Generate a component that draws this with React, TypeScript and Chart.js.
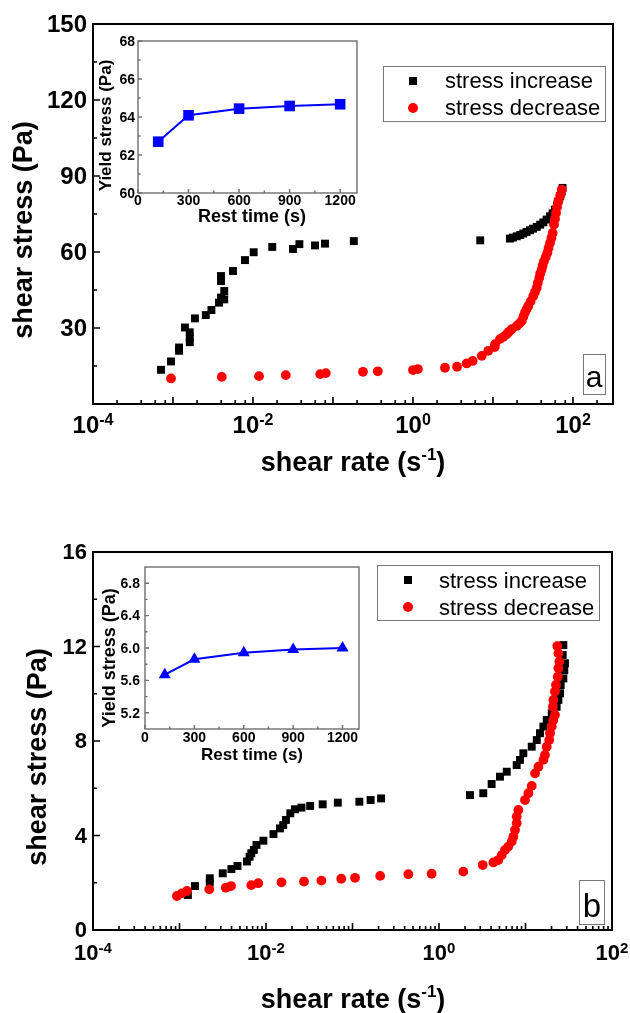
import React, { useEffect, useRef } from 'react';
import { Chart, registerables } from 'chart.js';

Chart.register(...registerables);

const FONT = '"Liberation Sans", Arial, Helvetica, sans-serif';

// ---------------- data: panel a ----------------
const incAx = [7.08e-4, 9.44e-4, 1.19e-3, 1.19e-3, 1.41e-3, 1.62e-3, 1.62e-3, 1.62e-3, 1.88e-3, 2.57e-3, 3.02e-3, 3.76e-3, 3.98e-3, 3.98e-3, 3.98e-3, 4.37e-3, 4.37e-3, 5.62e-3, 7.94e-3, 1.02e-2, 1.74e-2, 3.16e-2, 3.80e-2, 5.96e-2, 7.94e-2, 0.182, 6.92, 16.3, 17.8, 19.8, 21.9, 23.9, 26.3, 29.0, 31.6, 35.2, 38.9, 42.6, 46.8, 51.6, 55.6, 59.6, 63.1, 65.5, 69.2, 72.3, 74.1];
const incAy = [13.5, 16.8, 21.0, 22.3, 30.2, 28.3, 26.4, 24.4, 33.8, 35.1, 37.1, 40.0, 42.0, 48.5, 50.5, 44.6, 41.3, 52.5, 56.8, 59.9, 62.0, 61.2, 63.1, 62.6, 63.3, 64.3, 64.6, 65.3, 65.7, 66.2, 66.7, 67.3, 67.9, 68.6, 69.2, 69.9, 70.8, 71.7, 72.8, 74.1, 75.3, 76.7, 78.3, 80.0, 82.0, 83.9, 85.3];
const decAx = [9.44e-4, 4.07e-3, 1.19e-2, 2.57e-2, 6.92e-2, 8.13e-2, 0.237, 0.363, 1.0, 1.15, 2.51, 3.55, 4.68, 5.57, 7.23, 8.73, 10.5, 10.6, 12.2, 13.5, 14.8, 15.8, 17.1, 19.8, 21.4, 22.9, 24.0, 25.1, 26.3, 27.6, 29.5, 31.9, 33.5, 35.2, 36.3, 37.9, 38.9, 40.6, 41.7, 43.4, 45.7, 47.8, 49.5, 51.6, 53.7, 55.7, 57.9, 59.6, 61.3, 63.1, 65.5, 69.2, 72.3];
const decAy = [10.1, 10.7, 11.0, 11.4, 11.8, 12.2, 12.7, 12.9, 13.4, 13.8, 14.3, 14.7, 16.0, 17.0, 19.0, 21.0, 22.5, 23.6, 25.6, 26.5, 27.5, 28.5, 29.5, 30.8, 31.8, 32.8, 34.5, 36.1, 37.4, 38.7, 40.5, 42.6, 44.2, 45.9, 47.8, 49.8, 51.5, 53.1, 54.7, 56.4, 58.0, 59.7, 61.6, 63.6, 65.5, 67.5, 70.8, 73.0, 75.4, 77.7, 80.0, 82.3, 84.6];

// ---------------- data: panel b ----------------
const incBx = [1.25e-3, 1.51e-3, 2.24e-3, 2.24e-3, 3.16e-3, 3.98e-3, 4.68e-3, 6.03e-3, 6.46e-3, 6.76e-3, 7.24e-3, 7.76e-3, 9.33e-3, 1.22e-2, 1.45e-2, 1.58e-2, 1.70e-2, 1.91e-2, 2.16e-2, 2.57e-2, 3.24e-2, 4.52e-2, 6.76e-2, 0.120, 0.162, 0.214, 2.28, 3.25, 4.06, 5.07, 6.07, 7.91, 8.63, 9.44, 11.8, 13.5, 14.7, 16.1, 17.6, 20.1, 22.9, 24.0, 25.1, 25.5, 27.4, 28.1, 28.6, 26.9, 27.4];
const incBy = [1.48, 1.86, 2.0, 2.19, 2.4, 2.58, 2.71, 2.9, 3.1, 3.25, 3.39, 3.6, 3.78, 4.06, 4.3, 4.44, 4.66, 4.94, 5.11, 5.18, 5.25, 5.32, 5.39, 5.43, 5.5, 5.57, 5.71, 5.79, 6.18, 6.49, 6.70, 6.98, 7.20, 7.48, 7.76, 8.04, 8.33, 8.61, 8.89, 9.17, 9.45, 9.74, 10.02, 10.37, 10.65, 11.0, 11.29, 11.64, 12.06];
const decBx = [9.33e-4, 1.06e-3, 1.22e-3, 2.21e-3, 3.43e-3, 3.94e-3, 6.76e-3, 8.13e-3, 1.51e-2, 2.75e-2, 4.37e-2, 7.41e-2, 0.107, 0.209, 0.442, 0.822, 1.91, 3.20, 4.25, 4.85, 5.31, 5.79, 6.32, 6.92, 7.23, 7.57, 7.91, 7.91, 8.26, 9.86, 10.8, 11.8, 12.9, 14.1, 16.1, 16.8, 17.6, 18.8, 19.2, 20.1, 21.0, 21.9, 20.7, 21.0, 21.9, 22.5, 23.6, 24.0, 24.6, 24.0, 23.3];
const decBy = [1.44, 1.55, 1.65, 1.72, 1.79, 1.86, 1.90, 1.98, 2.02, 2.05, 2.09, 2.17, 2.21, 2.29, 2.36, 2.38, 2.47, 2.75, 2.86, 2.96, 3.17, 3.39, 3.53, 3.74, 3.95, 4.23, 4.52, 4.80, 5.08, 5.50, 5.79, 6.10, 6.63, 6.91, 7.20, 7.41, 7.76, 8.04, 8.33, 8.61, 8.89, 9.10, 9.45, 9.74, 10.09, 10.37, 10.72, 11.08, 11.36, 11.71, 12.02];

// ---------------- data: insets ----------------
const restTime = [120, 300, 600, 900, 1200];
const yieldA = [62.70, 64.09, 64.44, 64.58, 64.67];
const yieldB = [5.67, 5.86, 5.94, 5.98, 6.00];

// ---------------- ticks ----------------
const mainATicksY = [30, 60, 90, 120, 150];
const mainAMinorY = [15, 45, 75, 105, 135];
const mainBTicksY = [0, 4, 8, 12, 16];
const mainBMinorY = [2, 6, 10, 14];
const decadeExps = [-4, -3, -2, -1, 0, 1, 2];
const labelExps = [-4, -2, 0, 2];
const minorMultA = [2, 4, 6, 8];
const minorMultB = [2, 3, 4, 5, 6, 7, 8, 9];
const restTicks = [0, 300, 600, 900, 1200];
const restMinor = [150, 450, 750, 1050];
const insetATicksY = [60, 62, 64, 66, 68];
const insetAMinorY = [61, 63, 65, 67];
const insetBTicksY = [5.2, 5.6, 6.0, 6.4, 6.8];
const insetBMinorY = [5.4, 5.8, 6.2, 6.6];

const legendLabels = ['stress increase', 'stress decrease'];

const toPts = (xs: number[], ys: number[]) => xs.map((x, i) => ({ x, y: ys[i] }));

type Part = { t: string; px: number; rise: number; bold: boolean };

function drawParts(ctx: CanvasRenderingContext2D, parts: Part[], cx: number, baseline: number) {
  let total = 0;
  const widths = parts.map((p) => {
    ctx.font = `${p.bold ? 'bold ' : ''}${p.px}px ${FONT}`;
    const w = ctx.measureText(p.t).width;
    total += w;
    return w;
  });
  let x = cx - total / 2;
  ctx.textAlign = 'left';
  ctx.textBaseline = 'alphabetic';
  parts.forEach((p, i) => {
    ctx.font = `${p.bold ? 'bold ' : ''}${p.px}px ${FONT}`;
    ctx.fillText(p.t, x, baseline - p.rise);
    x += widths[i];
  });
}

function mainPlugin(p: any) {
  return {
    id: 'mainDeco',
    afterDraw(chart: any) {
      const ctx: CanvasRenderingContext2D = chart.ctx;
      const a = chart.chartArea;
      const xs = chart.scales.x;
      const ys = chart.scales.y;
      ctx.save();
      ctx.fillStyle = '#000';
      ctx.strokeStyle = '#000';
      // ticks
      ctx.lineWidth = 1.6;
      ctx.beginPath();
      p.yMajor.forEach((v: number) => {
        const py = ys.getPixelForValue(v);
        ctx.moveTo(a.left, py); ctx.lineTo(a.left + 7, py);
      });
      p.yMinor.forEach((v: number) => {
        const py = ys.getPixelForValue(v);
        ctx.moveTo(a.left, py); ctx.lineTo(a.left + 4, py);
      });
      decadeExps.forEach((e) => {
        const v = Math.pow(10, e);
        if (v >= p.xMin && v <= p.xMax) {
          const px = xs.getPixelForValue(v);
          ctx.moveTo(px, a.bottom); ctx.lineTo(px, a.bottom - 7);
        }
        p.minorMult.forEach((m: number) => {
          const mv = m * Math.pow(10, e);
          if (mv > p.xMin && mv < p.xMax) {
            const px = xs.getPixelForValue(mv);
            ctx.moveTo(px, a.bottom); ctx.lineTo(px, a.bottom - 4);
          }
        });
      });
      ctx.stroke();
      // frame
      ctx.lineWidth = 2;
      ctx.strokeRect(a.left, a.top, a.right - a.left, a.bottom - a.top);
      // y labels
      ctx.font = `bold ${p.yFont}px ${FONT}`;
      ctx.textAlign = 'right';
      ctx.textBaseline = 'middle';
      p.yLabels.forEach((v: number) => {
        ctx.fillText(String(v), p.yLabelRight, ys.getPixelForValue(v) + 1);
      });
      // x labels
      labelExps.forEach((e) => {
        const px = xs.getPixelForValue(Math.pow(10, e));
        drawParts(ctx, [
          { t: '10', px: p.xFont, rise: 0, bold: true },
          { t: String(e), px: p.xSupFont, rise: p.supRise, bold: true },
        ], px, p.xLabelBaseline);
      });
      // x title
      drawParts(ctx, [
        { t: 'shear rate (s', px: 27, rise: 0, bold: true },
        { t: '-1', px: 17, rise: 11, bold: true },
        { t: ')', px: 27, rise: 0, bold: true },
      ], p.xTitleCx, p.xTitleBaseline);
      // y title
      ctx.save();
      ctx.translate(p.yTitleX, p.yTitleCy);
      ctx.rotate(-Math.PI / 2);
      ctx.font = `bold 27px ${FONT}`;
      ctx.textAlign = 'center';
      ctx.textBaseline = 'alphabetic';
      ctx.fillText('shear stress (Pa)', 0, 0);
      ctx.restore();
      // legend
      const lg = p.legend;
      ctx.strokeStyle = '#777';
      ctx.lineWidth = 1;
      ctx.strokeRect(lg.box[0] + 0.5, lg.box[1] + 0.5, lg.box[2], lg.box[3]);
      ctx.font = `22px ${FONT}`;
      ctx.textAlign = 'left';
      ctx.textBaseline = 'alphabetic';
      chart.data.datasets.forEach((ds: any, i: number) => {
        const row = lg.rows[i];
        ctx.fillStyle = ds.pointBackgroundColor;
        if (ds.pointStyle === 'rect') {
          ctx.fillRect(lg.markerX - 4, row[0] - 4, 8, 8);
        } else {
          ctx.beginPath();
          ctx.arc(lg.markerX, row[0], 5, 0, Math.PI * 2);
          ctx.fill();
        }
        ctx.fillStyle = '#000';
        ctx.fillText(ds.label, lg.textX, row[1]);
      });
      // letter box
      const lt = p.letter;
      ctx.strokeStyle = '#777';
      ctx.strokeRect(lt.box[0] + 0.5, lt.box[1] + 0.5, lt.box[2], lt.box[3]);
      ctx.fillStyle = '#000';
      ctx.font = `${lt.font}px ${FONT}`;
      ctx.textAlign = 'center';
      ctx.fillText(lt.text, lt.cx, lt.baseline);
      ctx.restore();
    },
  };
}

function mainConfig(p: any): any {
  return {
    type: 'scatter',
    data: {
      datasets: [
        { label: legendLabels[0], data: toPts(p.incX, p.incY), pointStyle: 'rect', pointRadius: 5.6, pointBackgroundColor: '#000000', pointBorderWidth: 0, pointHoverRadius: 5.6, order: 1 },
        { label: legendLabels[1], data: toPts(p.decX, p.decY), pointStyle: 'circle', pointRadius: 4.9, pointBackgroundColor: '#ff0000', pointBorderWidth: 0, pointHoverRadius: 4.9, order: 0 },
      ],
    },
    options: {
      responsive: false,
      animation: false,
      events: [],
      layout: { padding: p.padding },
      scales: {
        x: { type: 'logarithmic', min: p.xMin, max: p.xMax, display: false },
        y: { type: 'linear', min: p.yMin, max: p.yMax, display: false },
      },
      plugins: { legend: { display: false }, tooltip: { enabled: false } },
    },
    plugins: [mainPlugin(p)],
  };
}

function insetPlugin(p: any) {
  return {
    id: 'insetDeco',
    afterDraw(chart: any) {
      const ctx: CanvasRenderingContext2D = chart.ctx;
      const a = chart.chartArea;
      const xs = chart.scales.x;
      const ys = chart.scales.y;
      ctx.save();
      ctx.strokeStyle = '#6e6e6e';
      ctx.lineWidth = 1.4;
      ctx.beginPath();
      p.yMajor.forEach((v: number) => {
        const py = ys.getPixelForValue(v);
        ctx.moveTo(a.left, py); ctx.lineTo(a.left + 4, py);
      });
      p.yMinor.forEach((v: number) => {
        const py = ys.getPixelForValue(v);
        ctx.moveTo(a.left, py); ctx.lineTo(a.left + 2.5, py);
      });
      restTicks.forEach((v) => {
        const px = xs.getPixelForValue(v);
        ctx.moveTo(px, a.bottom); ctx.lineTo(px, a.bottom - 4);
      });
      restMinor.forEach((v) => {
        const px = xs.getPixelForValue(v);
        ctx.moveTo(px, a.bottom); ctx.lineTo(px, a.bottom - 2.5);
      });
      ctx.stroke();
      ctx.strokeRect(a.left, a.top, a.right - a.left, a.bottom - a.top);
      ctx.fillStyle = '#000';
      ctx.font = `bold ${p.tickFont}px ${FONT}`;
      ctx.textAlign = 'right';
      ctx.textBaseline = 'middle';
      p.yMajor.forEach((v: number) => {
        ctx.fillText(p.yFmt(v), p.yLabelRight, ys.getPixelForValue(v) + 1);
      });
      ctx.textAlign = 'center';
      restTicks.forEach((v) => {
        ctx.fillText(String(v), xs.getPixelForValue(v), p.xLabelY);
      });
      ctx.textBaseline = 'alphabetic';
      ctx.font = `bold ${p.xTitleFont}px ${FONT}`;
      ctx.fillText('Rest time (s)', p.xTitleCx, p.xTitleBaseline);
      ctx.save();
      ctx.translate(p.yTitleX, p.yTitleCy);
      ctx.rotate(-Math.PI / 2);
      ctx.font = `bold ${p.yTitleFont}px ${FONT}`;
      ctx.textAlign = 'center';
      ctx.fillText('Yield stress (Pa)', 0, 0);
      ctx.restore();
      ctx.restore();
    },
  };
}

function insetConfig(p: any): any {
  return {
    type: 'scatter',
    data: {
      datasets: [
        {
          data: toPts(restTime, p.values),
          showLine: true,
          borderColor: '#0000ff',
          borderWidth: 2,
          pointStyle: p.pointStyle,
          pointRadius: p.pointRadius,
          pointHoverRadius: p.pointRadius,
          pointBackgroundColor: '#0000ff',
          pointBorderColor: '#0000ff',
          pointBorderWidth: 0,
        },
      ],
    },
    options: {
      responsive: false,
      animation: false,
      events: [],
      layout: { padding: p.padding },
      scales: {
        x: { type: 'linear', min: 0, max: 1300, display: false },
        y: { type: 'linear', min: p.yMin, max: p.yMax, display: false },
      },
      plugins: { legend: { display: false }, tooltip: { enabled: false } },
    },
    plugins: [insetPlugin(p)],
  };
}

const panelA = {
  incX: incAx, incY: incAy, decX: decAx, decY: decAy,
  padding: { left: 93, top: 24, right: 17, bottom: 102 },
  xMin: 1e-4, xMax: 316.2, yMin: 0, yMax: 150,
  yMajor: mainATicksY, yMinor: mainAMinorY, yLabels: mainATicksY, yFont: 24, yLabelRight: 87,
  minorMult: minorMultA, xFont: 24, xSupFont: 16, supRise: 8, xLabelBaseline: 433,
  xTitleCx: 353, xTitleBaseline: 471, yTitleX: 32, yTitleCy: 230,
  legend: { box: [383, 66, 222, 55], markerX: 413, textX: 445, rows: [[81, 88], [108, 115]] },
  letter: { text: 'a', box: [583, 354, 22, 40], cx: 594, baseline: 387, font: 30 },
};

const panelB = {
  incX: incBx, incY: incBy, decX: decBx, decY: decBy,
  padding: { left: 93, top: 46, right: 18, bottom: 83 },
  xMin: 1e-4, xMax: 100, yMin: 0, yMax: 16,
  yMajor: mainBTicksY, yMinor: mainBMinorY, yLabels: mainBTicksY, yFont: 22, yLabelRight: 87,
  minorMult: minorMultB, xFont: 22, xSupFont: 15, supRise: 7, xLabelBaseline: 454,
  xTitleCx: 353, xTitleBaseline: 502, yTitleX: 46, yTitleCy: 251,
  legend: { box: [377, 59, 222, 55], markerX: 408, textX: 439, rows: [[74, 82], [101, 109]] },
  letter: { text: 'b', box: [579, 374, 25, 44], cx: 592, baseline: 411, font: 33 },
};

const insetA = {
  values: yieldA, pointStyle: 'rect', pointRadius: 7.5,
  padding: { left: 48, top: 11, right: 13, bottom: 37 },
  yMin: 60, yMax: 68, yMajor: insetATicksY, yMinor: insetAMinorY, yFmt: (v: number) => String(v),
  tickFont: 14, yLabelRight: 45, xLabelY: 171,
  xTitleFont: 18, xTitleCx: 162, xTitleBaseline: 192,
  yTitleFont: 17, yTitleX: 20.5, yTitleCy: 95.5,
};

const insetB = {
  values: yieldB, pointStyle: 'triangle', pointRadius: 7,
  padding: { left: 55, top: 6, right: 11, bottom: 46 },
  yMin: 5.0, yMax: 7.0, yMajor: insetBTicksY, yMinor: insetBMinorY, yFmt: (v: number) => v.toFixed(1),
  tickFont: 14, yLabelRight: 50, xLabelY: 178,
  xTitleFont: 17, xTitleCx: 162, xTitleBaseline: 200,
  yTitleFont: 18, yTitleX: 25, yTitleCy: 98,
};

function ChartCanvas({ config, left, top, width, height }: any) {
  const ref = useRef<HTMLCanvasElement>(null);
  useEffect(() => {
    const chart = new Chart(ref.current as HTMLCanvasElement, config);
    return () => chart.destroy();
  }, []);
  return (
    <canvas
      ref={ref}
      width={width}
      height={height}
      style={{ position: 'absolute', left, top, width, height }}
    />
  );
}

export default function App() {
  return (
    <div style={{ position: 'fixed', left: 0, top: 0, width: 630, height: 1013, background: '#fff', overflow: 'hidden' }}>
      <ChartCanvas config={mainConfig(panelA)} left={0} top={0} width={630} height={506} />
      <ChartCanvas config={mainConfig(panelB)} left={0} top={506} width={630} height={507} />
      <ChartCanvas config={insetConfig(insetA)} left={90} top={30} width={280} height={200} />
      <ChartCanvas config={insetConfig(insetB)} left={90} top={560} width={280} height={215} />
    </div>
  );
}
